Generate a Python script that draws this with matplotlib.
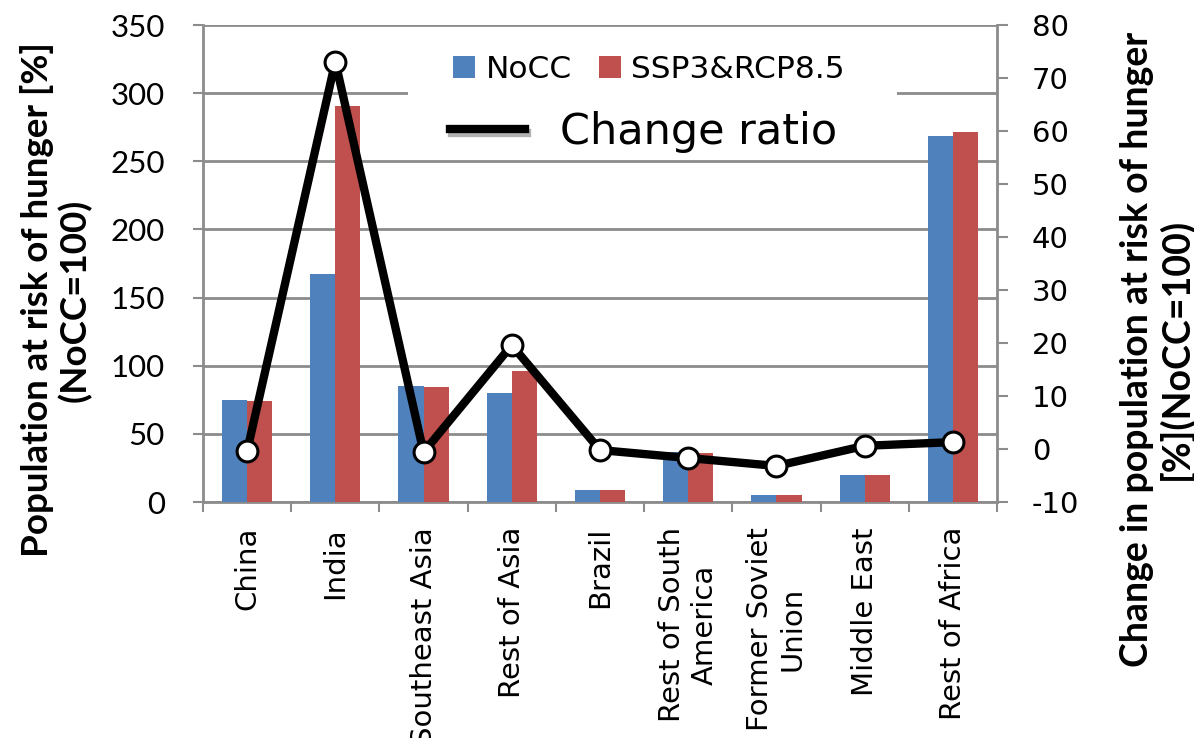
import numpy as np
import matplotlib
matplotlib.use("Agg")
import matplotlib.pyplot as plt
import matplotlib.patheffects as pe
from matplotlib.patches import Patch, Rectangle
from matplotlib.lines import Line2D

# ---------- data ----------
regions = ['China', 'India', 'Southeast Asia', 'Rest of Asia', 'Brazil',
           'Rest of South\nAmerica', 'Former Soviet\nUnion', 'Middle East', 'Rest of Africa']
nocc = [74.9, 167.6, 84.9, 80.3, 9.0, 36.5, 5.4, 20.0, 268.2]
ssp3 = [74.4, 290.6, 84.4, 95.9, 9.0, 36.0, 5.4, 20.0, 271.6]
change_ratio = [-0.4, 73.1, -0.6, 19.6, -0.2, -1.7, -3.2, 0.6, 1.3]

left_ticks = [0, 50, 100, 150, 200, 250, 300, 350]
right_ticks = [-10, 0, 10, 20, 30, 40, 50, 60, 70, 80]

BLUE = '#4F81BD'
RED = '#C0504D'
AXC = '#8C8C8C'

plt.rcParams['axes.unicode_minus'] = False

W, H = 1194, 738
fig = plt.figure(figsize=(W / 100, H / 100), dpi=100)
ax = fig.add_axes([203 / W, 1 - 502 / H, (997 - 203) / W, (502 - 25) / H])
ax2 = ax.twinx()

x = np.arange(len(regions))
bw = 0.285
ax.bar(x - bw / 2, nocc, bw, color=BLUE, zorder=3)
ax.bar(x + bw / 2, ssp3, bw, color=RED, zorder=3)

ax.set_xlim(-0.5, len(regions) - 0.5)
ax.set_ylim(0, 350)
ax.set_yticks(left_ticks)
ax.yaxis.grid(True, color=AXC, lw=2, zorder=0)
ax.set_axisbelow(True)

# category boundaries carry the ticks, names sit in the middle
ax.set_xticks(np.arange(len(regions) + 1) - 0.5)
ax.set_xticklabels([])
ax.set_xticks(x, minor=True)
ax.set_xticklabels(regions, minor=True, rotation=90, ha='center', va='top',
                   multialignment='center', fontsize=21, family='DejaVu Sans')
ax.tick_params(axis='x', which='major', direction='out', length=7.5, width=1.5, color=AXC)
ax.tick_params(axis='x', which='minor', length=0, pad=18)
ax.tick_params(axis='y', direction='out', length=7.5, width=1.5, color=AXC, pad=20,
               labelsize=22.5)
for lab in ax.get_yticklabels():
    lab.set_family('Lato')

ax.spines['top'].set_visible(False)
ax2.spines['top'].set_visible(False)
for sp in ['left', 'bottom']:
    ax.spines[sp].set_color(AXC)
    ax.spines[sp].set_linewidth(2)
ax2.spines['right'].set_color(AXC)
ax2.spines['right'].set_linewidth(2)
ax2.spines['left'].set_visible(False)
ax2.spines['bottom'].set_visible(False)

ax2.set_ylim(-10, 80)
ax2.set_yticks(right_ticks)
ax2.tick_params(axis='y', direction='out', length=8, width=1.5, color=AXC, pad=17,
                labelsize=21)
for lab in ax2.get_yticklabels():
    lab.set_family('DejaVu Sans')

ax2.plot(x, change_ratio, color='black', lw=6, marker='o', markersize=15,
         markerfacecolor='white', markeredgecolor='black', markeredgewidth=2.2,
         zorder=5, solid_joinstyle='round')

# axis titles
fig.text(56 / W, 1 - 300 / H, 'Population at risk of hunger [%]\n(NoCC=100)',
         rotation=90, ha='center', va='center', fontsize=26.5, fontweight='bold',
         family='Lato', linespacing=1.1)
fig.text(1157 / W, 1 - 349 / H, 'Change in population at risk of hunger\n[%](NoCC=100)',
         rotation=90, ha='center', va='center', fontsize=27, fontweight='bold',
         family='Lato', linespacing=1.1)

# white box behind the legend hides the gridline
fig.patches.append(Rectangle((408 / W, 1 - 155 / H), (897 - 408) / W, 125 / H,
                             transform=fig.transFigure, facecolor='white',
                             edgecolor='none', zorder=2))

bar_handles = [Patch(facecolor=BLUE), Patch(facecolor=RED)]
leg1 = fig.legend(bar_handles, ['NoCC', 'SSP3&RCP8.5'], loc='center left',
                  bbox_to_anchor=(453 / W, 1 - 69 / H), ncol=2, frameon=False,
                  handlelength=0.7, handleheight=0.7,
                  handletextpad=0.35, columnspacing=0.85, borderpad=0,
                  borderaxespad=0, prop={'family': 'DejaVu Sans', 'size': 22.5})
line_handle = Line2D([], [], color='black', lw=6,
                     path_effects=[pe.SimpleLineShadow(offset=(1.5, -3), shadow_color='gray',
                                                       alpha=0.6),
                                   pe.Normal()])
leg2 = fig.legend([line_handle], ['Change ratio'], loc='center left',
                  bbox_to_anchor=(450 / W, 1 - 132 / H), frameon=False,
                  handlelength=1.75, handletextpad=0.8, borderpad=0, borderaxespad=0,
                  prop={'family': 'DejaVu Sans', 'size': 31})

fig.savefig('out.png', dpi=100)
